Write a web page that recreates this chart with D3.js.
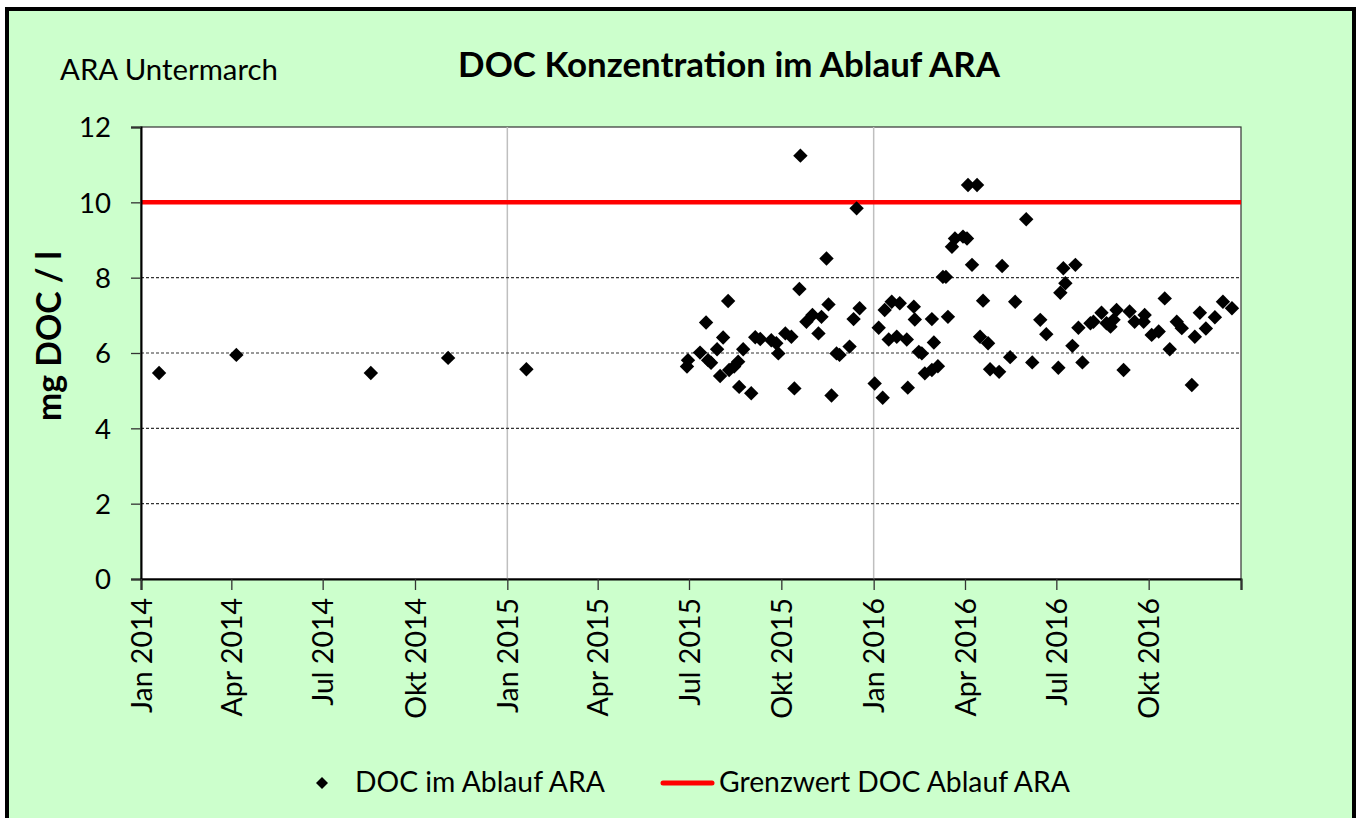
<!DOCTYPE html>
<html><head><meta charset="utf-8">
<script src="https://cdn.jsdelivr.net/npm/d3@7"></script>
<style>html,body{margin:0;padding:0;background:#fff;} svg{display:block;}</style>
</head><body>
<svg id="chart" width="1360" height="818"></svg>
<script>
// ---------------- DATA ----------------
const sampleDates = [
  "2014-01-19","2014-04-06","2014-08-18","2014-11-03","2015-01-20",
  "2015-06-29","2015-06-30","2015-07-12","2015-07-18","2015-07-20","2015-07-23","2015-07-29",
  "2015-08-01","2015-08-04","2015-08-09","2015-08-10","2015-08-15","2015-08-19","2015-08-20","2015-08-24",
  "2015-09-01","2015-09-05","2015-09-10","2015-09-21","2015-09-26","2015-09-28",
  "2015-10-05","2015-10-11","2015-10-14","2015-10-19","2015-10-20","2015-10-26",
  "2015-11-01","2015-11-07","2015-11-10","2015-11-15","2015-11-17","2015-11-20","2015-11-25","2015-11-28",
  "2015-12-08","2015-12-12","2015-12-15","2015-12-18",
  "2016-01-02","2016-01-06","2016-01-10","2016-01-12","2016-01-16","2016-01-19","2016-01-24","2016-01-27",
  "2016-02-03","2016-02-04","2016-02-10","2016-02-11","2016-02-15","2016-02-18","2016-02-21","2016-02-28","2016-02-28","2016-03-01",
  "2016-03-05","2016-03-10","2016-03-13","2016-03-15","2016-03-19","2016-03-22","2016-03-30",
  "2016-04-03","2016-04-04","2016-04-08","2016-04-13","2016-04-16","2016-04-19","2016-04-24","2016-04-26",
  "2016-05-05","2016-05-08","2016-05-16","2016-05-21",
  "2016-06-01","2016-06-07","2016-06-15","2016-06-21",
  "2016-07-03","2016-07-05","2016-07-08","2016-07-10","2016-07-17","2016-07-20","2016-07-23","2016-07-27",
  "2016-08-04","2016-08-07","2016-08-15","2016-08-20","2016-08-24","2016-08-27","2016-08-30",
  "2016-09-06","2016-09-12","2016-09-17","2016-09-26","2016-09-27",
  "2016-10-04","2016-10-11","2016-10-17","2016-10-22","2016-10-29",
  "2016-11-03","2016-11-13","2016-11-16","2016-11-21","2016-11-27",
  "2016-12-06","2016-12-14","2016-12-23"
];
const docValues = [
  5.47,5.95,5.47,5.87,5.57,
  5.64,5.81,6.01,6.81,5.81,5.74,6.10,
  5.39,6.41,7.38,5.55,5.64,5.77,5.10,6.10,
  4.93,6.42,6.37,6.34,6.26,5.99,
  6.52,6.43,5.06,7.70,11.24,6.83,
  7.01,6.52,6.96,8.51,7.29,4.87,5.99,5.95,
  6.17,6.90,9.84,7.19,
  5.19,6.67,4.81,7.14,6.36,7.36,6.43,7.32,
  6.36,5.08,7.23,6.89,6.03,5.99,5.46,6.90,5.55,6.28,
  5.65,8.02,8.02,6.96,8.82,9.04,9.09,
  9.04,10.46,8.34,10.46,6.43,7.39,6.26,5.57,
  5.50,8.31,5.89,7.36,
  9.55,5.75,6.88,6.50,
  5.61,7.60,8.25,7.85,6.19,8.34,6.67,5.75,
  6.79,6.83,7.07,6.79,6.70,6.88,7.14,
  5.55,7.10,6.83,6.83,7.01,
  6.48,6.57,7.45,6.10,6.83,
  6.66,5.15,6.43,7.07,6.65,
  6.95,7.36,7.19
];
const limitValue = 10;
const yTickValues = [0, 2, 4, 6, 8, 10, 12];
const yGridValues = [2, 4, 6, 8, 10];
const xTickDates = ["2014-01-01","2014-04-01","2014-07-01","2014-10-01","2015-01-01","2015-04-01",
  "2015-07-01","2015-10-01","2016-01-01","2016-04-01","2016-07-01","2016-10-01","2017-01-01"];
const xTickLabels = ["Jan 2014","Apr 2014","Jul 2014","Okt 2014","Jan 2015","Apr 2015",
  "Jul 2015","Okt 2015","Jan 2016","Apr 2016","Jul 2016","Okt 2016",""];
const xGridDates = ["2015-01-01","2016-01-01"];
const chartTitle = "DOC Konzentration im Ablauf ARA";
const subTitle = "ARA Untermarch";
const yAxisTitle = "mg DOC / l";
const seriesNames = ["DOC im Ablauf ARA", "Grenzwert DOC Ablauf ARA"];

// ---------------- DRAW ----------------
const FONT = "Lato, 'Open Sans', sans-serif";
const parse = d3.timeParse("%Y-%m-%d");
const svg = d3.select("#chart");

// helper: font size that makes a text reach a target width
function fitSize(txt, weight, targetW) {
  const t = svg.append("text").attr("font-family", FONT).attr("font-weight", weight)
    .attr("font-size", 100).text(txt);
  const w = t.node().getComputedTextLength();
  t.remove();
  return 100 * targetW / w;
}

// outer frame
svg.append("rect").attr("x", 7).attr("y", 9).attr("width", 1347).attr("height", 830)
  .attr("fill", "#ccffcc").attr("stroke", "#000").attr("stroke-width", 4);

const plot = {left: 141, right: 1241, top: 127, bottom: 579};
const x = d3.scaleTime().domain([parse("2014-01-01"), parse("2017-01-01")]).range([plot.left, plot.right]);
const y = d3.scaleLinear().domain([0, 12]).range([plot.bottom, plot.top]);

svg.append("rect").attr("x", plot.left).attr("y", plot.top)
  .attr("width", plot.right - plot.left).attr("height", plot.bottom - plot.top)
  .attr("fill", "#fff").attr("stroke", "#333").attr("stroke-width", 1.2);

// gridlines
svg.append("g").selectAll("line").data(xGridDates).join("line")
  .attr("x1", d => x(parse(d))).attr("x2", d => x(parse(d)))
  .attr("y1", plot.top).attr("y2", plot.bottom)
  .attr("stroke", "#bfbfbf").attr("stroke-width", 1.5);
svg.append("g").selectAll("line").data(yGridValues).join("line")
  .attr("x1", plot.left).attr("x2", plot.right)
  .attr("y1", d => y(d)).attr("y2", d => y(d))
  .attr("stroke", "#333").attr("stroke-width", 1.2).attr("stroke-dasharray", "3,2");

// limit line
svg.append("line").attr("x1", plot.left).attr("x2", plot.right)
  .attr("y1", y(limitValue)).attr("y2", y(limitValue))
  .attr("stroke", "#ff0000").attr("stroke-width", 4.5);

// axes
const tickFont = fitSize("12", 400, 32);
const yAxis = d3.axisLeft(y).tickValues(yTickValues).tickSize(10).tickPadding(20).tickFormat(d3.format("d"));
const gy = svg.append("g").attr("transform", `translate(${plot.left},0)`).call(yAxis);
gy.select(".domain").attr("stroke", "#000").attr("stroke-width", 2);
gy.selectAll(".tick line").attr("stroke", "#333").attr("stroke-width", 1.3);
gy.selectAll(".tick text").attr("font-family", FONT).attr("font-size", tickFont).attr("fill", "#000")
  .attr("dy", "0.36em");

const xTickFont = fitSize("Jan 2014", 400, 115);
const xAxis = d3.axisBottom(x).tickValues(xTickDates.map(parse)).tickSize(11)
  .tickFormat((d, i) => xTickLabels[i]);
const gx = svg.append("g").attr("transform", `translate(0,${plot.bottom})`).call(xAxis);
gx.select(".domain").attr("stroke", "#000").attr("stroke-width", 2);
gx.selectAll(".tick line").attr("stroke", "#333").attr("stroke-width", 1.3);
gx.selectAll(".tick text").attr("font-family", FONT).attr("font-size", xTickFont).attr("fill", "#000")
  .attr("text-anchor", "end").attr("transform", "translate(0,19) rotate(-90)")
  .attr("x", 0).attr("y", 0).attr("dy", "0.36em");

// points
const diamond = r => `M0,${-r}L${r},0L0,${r}L${-r},0Z`;
const pts = sampleDates.map((d, i) => ({date: parse(d), value: docValues[i]}));
svg.append("g").selectAll("path").data(pts).join("path")
  .attr("d", diamond(7.2))
  .attr("transform", d => `translate(${x(d.date)},${y(d.value)})`)
  .attr("fill", "#000");

// titles
svg.append("text").attr("x", 729).attr("y", 77).attr("text-anchor", "middle")
  .attr("font-family", FONT).attr("font-weight", 700)
  .attr("font-size", fitSize(chartTitle, 700, 542)).text(chartTitle);
svg.append("text").attr("x", 60).attr("y", 80)
  .attr("font-family", FONT).attr("font-size", fitSize(subTitle, 400, 218)).text(subTitle);
svg.append("text").attr("transform", "translate(61,336) rotate(-90)").attr("text-anchor", "middle")
  .attr("font-family", FONT).attr("font-weight", 700)
  .attr("font-size", fitSize(yAxisTitle, 700, 170)).text(yAxisTitle);

// legend
const legFont = fitSize(seriesNames[0], 400, 250);
const lg = svg.append("g");
lg.append("path").attr("d", diamond(6)).attr("transform", "translate(322,783)").attr("fill", "#000");
lg.append("text").attr("x", 355).attr("y", 792).attr("font-family", FONT).attr("font-size", legFont)
  .text(seriesNames[0]);
lg.append("line").attr("x1", 663).attr("x2", 712).attr("y1", 783).attr("y2", 783)
  .attr("stroke", "#ff0000").attr("stroke-width", 5).attr("stroke-linecap", "round");
lg.append("text").attr("x", 719).attr("y", 792).attr("font-family", FONT).attr("font-size", legFont)
  .text(seriesNames[1]);
</script>
</body></html>
